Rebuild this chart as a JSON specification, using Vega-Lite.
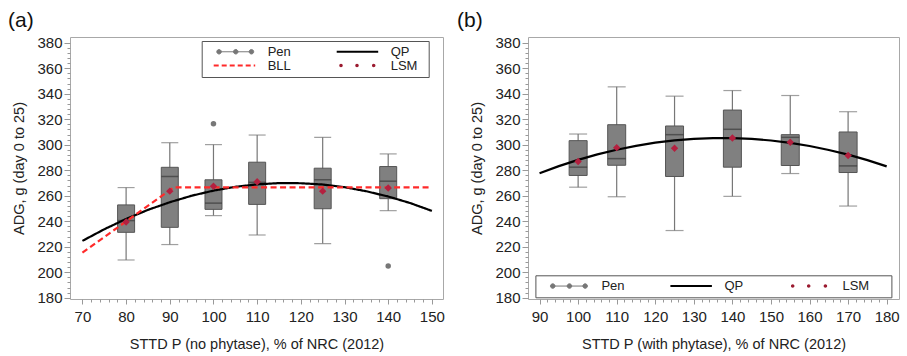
{
  "$schema": "https://vega.github.io/schema/vega-lite/v6.json",
  "background": "white",
  "padding": {"left": 7, "top": 9, "right": 2, "bottom": 2},
  "bounds": "flush",
  "spacing": 85,
  "config": {
    "font": "Liberation Sans",
    "view": {"stroke": "#a8a8a8", "strokeWidth": 1},
    "axis": {"grid": false, "domain": false, "labelFont": "Liberation Sans", "labelFontSize": 15, "labelColor": "#222", "titleFont": "Liberation Sans", "titleFontSize": 14.5, "titleFontWeight": "normal", "titleColor": "#222", "tickColor": "#999", "labelOverlap": false, "labelFlush": false, "labelBound": false},
    "title": {"font": "Liberation Sans", "fontSize": 21, "fontWeight": "normal", "color": "#111"}
  },
  "datasets": {
    "boxA": [
      {"p": 80, "lo": 209.6, "q1": 231.3, "med": 240.5, "q3": 252.8, "hi": 266.4, "lsm": 239.4},
      {"p": 90, "lo": 221.7, "q1": 235.2, "med": 275.1, "q3": 282.3, "hi": 301.6, "lsm": 263.6},
      {"p": 100, "lo": 244.4, "q1": 249.3, "med": 254.2, "q3": 272.5, "hi": 300.1, "lsm": 267.5},
      {"p": 110, "lo": 229.2, "q1": 253.2, "med": 270.5, "q3": 286.3, "hi": 307.6, "lsm": 271},
      {"p": 125, "lo": 222.5, "q1": 249.8, "med": 272.5, "q3": 281.6, "hi": 305.8, "lsm": 263.6},
      {"p": 140, "lo": 248.3, "q1": 257.7, "med": 271.4, "q3": 282.9, "hi": 292.8, "lsm": 266}
    ],
    "outA": [{"p": 100, "y": 316.5}, {"p": 140, "y": 204.8}],
    "curveA": [
      {"p": 70, "y": 224.6, "s": "QP"}, {"p": 75, "y": 233.7, "s": "QP"}, {"p": 80, "y": 241.8, "s": "QP"},
      {"p": 85, "y": 248.9, "s": "QP"}, {"p": 90, "y": 254.9, "s": "QP"}, {"p": 95, "y": 260.0, "s": "QP"},
      {"p": 100, "y": 264.0, "s": "QP"}, {"p": 105, "y": 267.0, "s": "QP"}, {"p": 110, "y": 268.9, "s": "QP"},
      {"p": 115, "y": 269.9, "s": "QP"}, {"p": 120, "y": 269.8, "s": "QP"}, {"p": 125, "y": 268.8, "s": "QP"},
      {"p": 130, "y": 266.7, "s": "QP"}, {"p": 135, "y": 263.5, "s": "QP"}, {"p": 140, "y": 259.4, "s": "QP"},
      {"p": 145, "y": 254.3, "s": "QP"}, {"p": 150, "y": 248.1, "s": "QP"},
      {"p": 70, "y": 215.4, "s": "BLL"}, {"p": 90.9, "y": 266.5, "s": "BLL"}, {"p": 150, "y": 266.5, "s": "BLL"}
    ],
    "boxB": [
      {"p": 100, "lo": 266.7, "q1": 275.9, "med": 282.4, "q3": 303.2, "hi": 308.4, "lsm": 286.8},
      {"p": 110, "lo": 259.2, "q1": 283.9, "med": 289.1, "q3": 315.7, "hi": 345.4, "lsm": 297.7},
      {"p": 125, "lo": 232.7, "q1": 275.1, "med": 307.9, "q3": 314.7, "hi": 338.1, "lsm": 297.2},
      {"p": 140, "lo": 259.5, "q1": 282.4, "med": 312.1, "q3": 327.2, "hi": 342.5, "lsm": 305.3},
      {"p": 155, "lo": 277.4, "q1": 283.7, "med": 305.8, "q3": 307.9, "hi": 338.6, "lsm": 301.9},
      {"p": 170, "lo": 251.9, "q1": 278.2, "med": 283.4, "q3": 310, "hi": 325.9, "lsm": 291.5}
    ],
    "curveB": [
      {"p": 90, "y": 277.7, "s": "QP"}, {"p": 95, "y": 283.2, "s": "QP"}, {"p": 100, "y": 288.1, "s": "QP"},
      {"p": 105, "y": 292.4, "s": "QP"}, {"p": 110, "y": 296.1, "s": "QP"}, {"p": 115, "y": 299.1, "s": "QP"},
      {"p": 120, "y": 301.6, "s": "QP"}, {"p": 125, "y": 303.4, "s": "QP"}, {"p": 130, "y": 304.6, "s": "QP"},
      {"p": 135, "y": 305.2, "s": "QP"}, {"p": 140, "y": 305.2, "s": "QP"}, {"p": 145, "y": 304.6, "s": "QP"},
      {"p": 150, "y": 303.3, "s": "QP"}, {"p": 155, "y": 301.5, "s": "QP"}, {"p": 160, "y": 299.0, "s": "QP"},
      {"p": 165, "y": 295.9, "s": "QP"}, {"p": 170, "y": 292.2, "s": "QP"}, {"p": 175, "y": 287.9, "s": "QP"},
      {"p": 180, "y": 283.0, "s": "QP"}
    ]
  },
  "resolve": {
    "scale": {"x": "independent", "y": "independent", "color": "independent", "strokeDash": "independent"},
    "legend": {"color": "independent", "strokeDash": "independent"}
  },
  "hconcat": [
    {
      "width": 373,
      "height": 262,
      "title": {"text": "(a)", "anchor": "start", "frame": "group", "dx": -62, "offset": 5, "fontSize": 21},
      "resolve": {"axis": {"x": "independent", "y": "independent"}},
      "layer": [
        {
          "data": {"name": "boxA"},
          "mark": {"type": "rule", "color": "#777", "strokeWidth": 1.2},
          "encoding": {
            "x": {"field": "p", "type": "quantitative",
              "scale": {"domain": [68.3, 151.4], "nice": false, "zero": false},
              "axis": {"orient": "bottom", "title": "STTD P (no phytase), % of NRC (2012)", "values": [70,80,90,100,110,120,130,140,150], "tickSize": 5, "labelPadding": 5, "titlePadding": 13, "labelOverlap": false}},
            "y": {"field": "lo", "type": "quantitative",
              "scale": {"domain": [179, 384.5], "nice": false, "zero": false},
              "axis": {"orient": "left", "title": "ADG, g (day 0 to 25)", "values": [180,200,220,240,260,280,300,320,340,360,380], "tickSize": 6, "labelPadding": 2, "titlePadding": 10, "labelOverlap": false}},
            "y2": {"field": "hi"}
          }
        },
        {
          "data": {"name": "boxA"},
          "mark": {"type": "tick", "orient": "horizontal", "size": 17, "thickness": 1.2, "color": "#777"},
          "encoding": {
            "x": {"field": "p", "type": "quantitative",
              "axis": {"orient": "bottom", "title": null, "labels": false, "tickSize": 3, "values": [72,74,76,78,82,84,86,88,92,94,96,98,102,104,106,108,112,114,116,118,122,124,126,128,132,134,136,138,142,144,146,148]}},
            "y": {"field": "lo", "type": "quantitative",
              "axis": {"orient": "left", "title": null, "labels": false, "tickSize": 3, "values": [184,188,192,196,204,208,212,216,224,228,232,236,244,248,252,256,264,268,272,276,284,288,292,296,304,308,312,316,324,328,332,336,344,348,352,356,364,368,372,376]}}
          }
        },
        {
          "data": {"name": "boxA"},
          "mark": {"type": "tick", "orient": "horizontal", "size": 17, "thickness": 1.2, "color": "#777"},
          "encoding": {"x": {"field": "p", "type": "quantitative", "axis": null}, "y": {"field": "hi", "type": "quantitative", "axis": null}}
        },
        {
          "data": {"name": "boxA"},
          "mark": {"type": "bar", "width": 17, "fill": "#808080", "stroke": "#555", "strokeWidth": 1},
          "encoding": {"x": {"field": "p", "type": "quantitative", "axis": null}, "y": {"field": "q1", "type": "quantitative", "axis": null}, "y2": {"field": "q3"}}
        },
        {
          "data": {"name": "boxA"},
          "mark": {"type": "tick", "orient": "horizontal", "size": 17, "thickness": 1.5, "color": "#3a3a3a"},
          "encoding": {"x": {"field": "p", "type": "quantitative", "axis": null}, "y": {"field": "med", "type": "quantitative", "axis": null}}
        },
        {
          "data": {"name": "curveA"},
          "mark": {"type": "line", "strokeWidth": 2.2},
          "encoding": {
            "x": {"field": "p", "type": "quantitative", "axis": null},
            "y": {"field": "y", "type": "quantitative", "axis": null},
            "strokeDash": {"field": "s", "type": "nominal", "scale": {"domain": ["QP", "BLL"], "range": [[1, 0], [6, 3.5]]}, "legend": null},
            "color": {"field": "s", "type": "nominal",
              "scale": {"domain": ["Pen", "QP", "BLL", "LSM"], "range": ["#777777", "#000000", "#ff2a2a", "#9b1b30"]},
              "legend": {"orient": "none", "direction": "horizontal", "legendX": 131.7, "legendY": 4, "columns": 2, "title": "\u00a0", "titleOrient": "right", "titleFontSize": 1, "titlePadding": 7, "padding": 4,
                "strokeColor": "#555", "fillColor": "white", "rowPadding": -1, "columnPadding": 37, "symbolSize": 100,
                "labelOffset": 49, "labelFontSize": 13, "labelFont": "Liberation Sans", "labelColor": "#222",
                "encode": {"symbols": {"update": {
                  "shape": {"signal": "datum.value === 'Pen' ? 'M1.37,0L7.85,0M0.92,0a0.45,0.45 0 1,0 0.9,0a0.45,0.45 0 1,0 -0.9,0M4.26,0a0.45,0.45 0 1,0 0.9,0a0.45,0.45 0 1,0 -0.9,0M7.4,0a0.45,0.45 0 1,0 0.9,0a0.45,0.45 0 1,0 -0.9,0' : datum.value === 'LSM' ? 'M0.81,0a0.35,0.35 0 1,0 0.7,0a0.35,0.35 0 1,0 -0.7,0M4.01,0a0.35,0.35 0 1,0 0.7,0a0.35,0.35 0 1,0 -0.7,0M7.35,0a0.35,0.35 0 1,0 0.7,0a0.35,0.35 0 1,0 -0.7,0' : 'M0.3,0L8.6,0'"},
                  "fill": {"signal": "datum.value === 'Pen' ? '#777777' : datum.value === 'LSM' ? '#9b1b30' : 'transparent'"},
                  "stroke": {"signal": "datum.value === 'Pen' ? '#777777' : datum.value === 'QP' ? '#000000' : datum.value === 'BLL' ? '#ff2a2a' : 'transparent'"},
                  "strokeWidth": {"signal": "datum.value === 'Pen' ? 1 : datum.value === 'LSM' ? 0 : 2"},
                  "strokeDash": {"signal": "datum.value === 'BLL' ? [5, 3] : [1, 0]"},
                  "opacity": {"value": 1}
                }}}
              }}
          }
        },
        {
          "data": {"name": "boxA"},
          "mark": {"type": "point", "shape": "diamond", "filled": true, "size": 55, "color": "#b4203f", "opacity": 1},
          "encoding": {"x": {"field": "p", "type": "quantitative", "axis": null}, "y": {"field": "lsm", "type": "quantitative", "axis": null}}
        },
        {
          "data": {"name": "outA"},
          "mark": {"type": "circle", "size": 30, "color": "#777777", "opacity": 1},
          "encoding": {"x": {"field": "p", "type": "quantitative", "axis": null}, "y": {"field": "y", "type": "quantitative", "axis": null}}
        }
      ]
    },
    {
      "width": 371,
      "height": 262,
      "title": {"text": "(b)", "anchor": "start", "frame": "group", "dx": -71, "offset": 5, "fontSize": 21},
      "resolve": {"axis": {"x": "independent", "y": "independent"}},
      "layer": [
        {
          "data": {"name": "boxB"},
          "mark": {"type": "rule", "color": "#777", "strokeWidth": 1.2},
          "encoding": {
            "x": {"field": "p", "type": "quantitative",
              "scale": {"domain": [88.3, 181.9], "nice": false, "zero": false},
              "axis": {"orient": "bottom", "title": "STTD P (with phytase), % of NRC (2012)", "values": [90,100,110,120,130,140,150,160,170,180], "tickSize": 5, "labelPadding": 5, "titlePadding": 13, "labelOverlap": false}},
            "y": {"field": "lo", "type": "quantitative",
              "scale": {"domain": [179, 384.5], "nice": false, "zero": false},
              "axis": {"orient": "left", "title": "ADG, g (day 0 to 25)", "values": [180,200,220,240,260,280,300,320,340,360,380], "tickSize": 6, "labelPadding": 2, "titlePadding": 10, "labelOverlap": false}},
            "y2": {"field": "hi"}
          }
        },
        {
          "data": {"name": "boxB"},
          "mark": {"type": "tick", "orient": "horizontal", "size": 18, "thickness": 1.2, "color": "#777"},
          "encoding": {
            "x": {"field": "p", "type": "quantitative",
              "axis": {"orient": "bottom", "title": null, "labels": false, "tickSize": 3, "values": [92,94,96,98,102,104,106,108,112,114,116,118,122,124,126,128,132,134,136,138,142,144,146,148,152,154,156,158,162,164,166,168,172,174,176,178]}},
            "y": {"field": "lo", "type": "quantitative",
              "axis": {"orient": "left", "title": null, "labels": false, "tickSize": 3, "values": [184,188,192,196,204,208,212,216,224,228,232,236,244,248,252,256,264,268,272,276,284,288,292,296,304,308,312,316,324,328,332,336,344,348,352,356,364,368,372,376]}}
          }
        },
        {
          "data": {"name": "boxB"},
          "mark": {"type": "tick", "orient": "horizontal", "size": 18, "thickness": 1.2, "color": "#777"},
          "encoding": {"x": {"field": "p", "type": "quantitative", "axis": null}, "y": {"field": "hi", "type": "quantitative", "axis": null}}
        },
        {
          "data": {"name": "boxB"},
          "mark": {"type": "bar", "width": 18, "fill": "#808080", "stroke": "#555", "strokeWidth": 1},
          "encoding": {"x": {"field": "p", "type": "quantitative", "axis": null}, "y": {"field": "q1", "type": "quantitative", "axis": null}, "y2": {"field": "q3"}}
        },
        {
          "data": {"name": "boxB"},
          "mark": {"type": "tick", "orient": "horizontal", "size": 18, "thickness": 1.5, "color": "#3a3a3a"},
          "encoding": {"x": {"field": "p", "type": "quantitative", "axis": null}, "y": {"field": "med", "type": "quantitative", "axis": null}}
        },
        {
          "data": {"name": "curveB"},
          "mark": {"type": "line", "strokeWidth": 2.2},
          "encoding": {
            "x": {"field": "p", "type": "quantitative", "axis": null},
            "y": {"field": "y", "type": "quantitative", "axis": null},
            "color": {"field": "s", "type": "nominal",
              "scale": {"domain": ["Pen", "QP", "LSM"], "range": ["#777777", "#000000", "#9b1b30"]},
              "legend": {"orient": "none", "direction": "horizontal", "legendX": 7.4, "legendY": 238.3, "columns": 3, "title": "\u00a0", "titleOrient": "right", "titleFontSize": 1, "titlePadding": 18, "padding": 4,
                "strokeColor": "#555", "fillColor": "white", "rowPadding": -1, "columnPadding": 37, "symbolSize": 100,
                "labelOffset": 49, "labelFontSize": 13, "labelFont": "Liberation Sans", "labelColor": "#222",
                "encode": {"symbols": {"update": {
                  "shape": {"signal": "datum.value === 'Pen' ? 'M1.37,0L7.85,0M0.92,0a0.45,0.45 0 1,0 0.9,0a0.45,0.45 0 1,0 -0.9,0M4.26,0a0.45,0.45 0 1,0 0.9,0a0.45,0.45 0 1,0 -0.9,0M7.4,0a0.45,0.45 0 1,0 0.9,0a0.45,0.45 0 1,0 -0.9,0' : datum.value === 'LSM' ? 'M0.81,0a0.35,0.35 0 1,0 0.7,0a0.35,0.35 0 1,0 -0.7,0M4.01,0a0.35,0.35 0 1,0 0.7,0a0.35,0.35 0 1,0 -0.7,0M7.35,0a0.35,0.35 0 1,0 0.7,0a0.35,0.35 0 1,0 -0.7,0' : 'M0.3,0L8.6,0'"},
                  "fill": {"signal": "datum.value === 'Pen' ? '#777777' : datum.value === 'LSM' ? '#9b1b30' : 'transparent'"},
                  "stroke": {"signal": "datum.value === 'Pen' ? '#777777' : datum.value === 'QP' ? '#000000' : 'transparent'"},
                  "strokeWidth": {"signal": "datum.value === 'Pen' ? 1 : datum.value === 'LSM' ? 0 : 2"},
                  "opacity": {"value": 1}
                }}}
              }}
          }
        },
        {
          "data": {"name": "boxB"},
          "mark": {"type": "point", "shape": "diamond", "filled": true, "size": 55, "color": "#b4203f", "opacity": 1},
          "encoding": {"x": {"field": "p", "type": "quantitative", "axis": null}, "y": {"field": "lsm", "type": "quantitative", "axis": null}}
        }
      ]
    }
  ]
}
